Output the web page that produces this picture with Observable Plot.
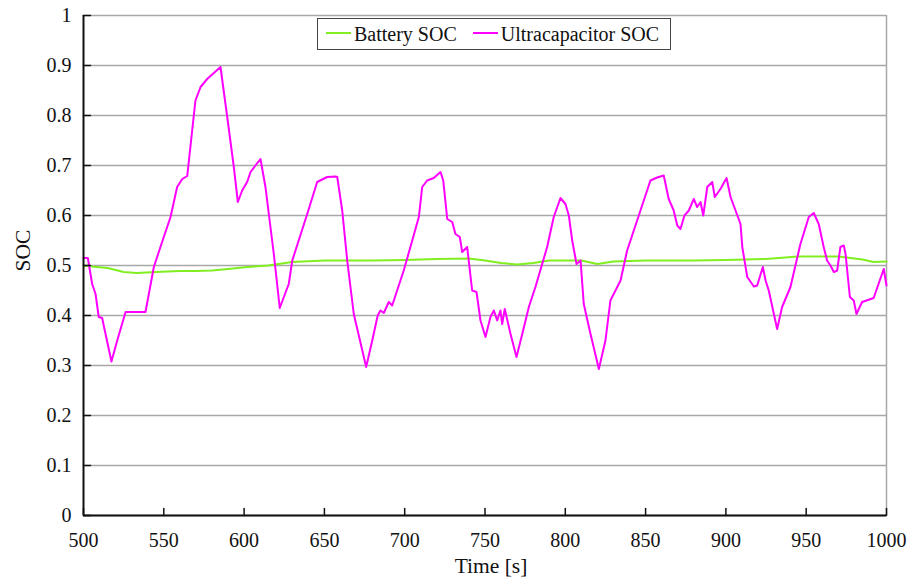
<!DOCTYPE html>
<html>
<head>
<meta charset="utf-8">
<script src="https://cdn.jsdelivr.net/npm/d3@7"></script>
<script src="https://cdn.jsdelivr.net/npm/@observablehq/plot@0.6"></script>
<style>
  html, body { margin: 0; padding: 0; background: #fff; }
  #wrap { position: relative; width: 911px; height: 583px; font-family: "Liberation Serif", "Times New Roman", serif; }
  #legend { position: absolute; left: 317px; top: 18px; width: 352px; height: 30px; border: 1.5px solid #444; background: #fff;
            display: flex; align-items: center; font-size: 20px; color: #111; white-space: nowrap; }
  .sw { display: inline-block; width: 25px; height: 2px; margin: 0 3px 0 8px; position: relative; top: -1px; }
  #chart svg text { font-family: "Liberation Serif", "Times New Roman", serif; }
</style>
</head>
<body>
<div id="wrap">
  <div id="chart"></div>
  <div id="legend"><span class="sw" style="background:#80ee20"></span>Battery SOC<span class="sw" style="background:#ff00ff;margin-left:16px"></span>Ultracapacitor SOC</div>
</div>
<script>
const seriesNames = ["Battery SOC", "Ultracapacitor SOC"];
const xTicks = [500, 550, 600, 650, 700, 750, 800, 850, 900, 950, 1000];
const yTicks = [0, 0.1, 0.2, 0.3, 0.4, 0.5, 0.6, 0.7, 0.8, 0.9, 1];
const yTickLabels = ["0", "0.1", "0.2", "0.3", "0.4", "0.5", "0.6", "0.7", "0.8", "0.9", "1"];

const batteryTime = [500, 505, 515, 525, 533, 545, 560, 570, 580, 590, 602, 615, 630, 650, 680, 700, 720, 740, 750, 760, 770, 780, 790, 810, 820, 830, 850, 880, 900, 925, 945, 970, 985, 992, 1000];
const batterySOC  = [0.5, 0.498, 0.495, 0.487, 0.485, 0.487, 0.489, 0.489, 0.49, 0.493, 0.497, 0.5, 0.507, 0.51, 0.51, 0.511, 0.513, 0.514, 0.51, 0.505, 0.502, 0.505, 0.51, 0.51, 0.503, 0.508, 0.51, 0.51, 0.511, 0.513, 0.518, 0.518, 0.512, 0.507, 0.508];

const ucTime = [500, 502.7, 505.4, 507.5, 509.5, 511.6, 517.4, 521, 526.2, 538.6, 543.8, 547.9, 554.2, 558.3, 561.5, 564.6, 569.7, 572.9, 577, 585.3, 589.5, 593.6, 596.1, 598.8, 601.9, 604, 610.2, 613.3, 618.5, 622.2, 627.8, 630, 639.3, 645.5, 651.7,
  656.9, 658, 661.1, 664.2, 668.3, 676, 679.8, 683.2, 684.9, 687, 690.1, 692.2, 699.4, 704.7, 708.8, 710.9, 714, 718.1, 722.3, 724, 726.5, 729.6, 731.6, 734.3, 735.8, 738.9, 742, 744.7, 747.2, 750.3, 753.4, 755.5, 757.6, 759.6, 760.7, 762.3, 765.9, 769.6, 773.2, 777.3, 781.4, 788.7, 792.8, 797, 800.1,
  802.2, 804.3, 807, 809.5, 811.5, 815.7, 820.9, 825, 828.1, 834.4, 838.5, 846.8, 853, 857.2, 861.3, 864.4, 867.5, 869.7, 871.7, 874.2, 876.9, 880, 882.1, 884.2, 885.9, 888.4, 891.5, 893.1, 896.6, 900.4, 902.9, 906, 909.1, 910.2, 913.3, 917.4, 919.5, 923, 924.7, 926.7, 931.9, 935, 940.2, 946.4, 951.6, 954.7, 957.8, 960.9, 963, 965.1, 967.2, 969.3, 971.3, 973.4, 974.5, 977.2, 979.6, 981.3, 984.8, 992, 998.3, 1000];
const ucSOC = [0.515, 0.515, 0.463, 0.443, 0.397, 0.395, 0.308, 0.35, 0.407, 0.407, 0.497, 0.537, 0.597, 0.657, 0.673, 0.679, 0.83, 0.857, 0.873, 0.897, 0.797, 0.697, 0.627, 0.65, 0.667, 0.687, 0.713, 0.657, 0.523, 0.415, 0.463, 0.51, 0.603, 0.667, 0.677,
  0.678, 0.677, 0.61, 0.51, 0.403, 0.297, 0.35, 0.40, 0.41, 0.405, 0.427, 0.42, 0.49, 0.55, 0.597, 0.657, 0.67, 0.675, 0.687, 0.67, 0.593, 0.587, 0.563, 0.557, 0.527, 0.537, 0.45, 0.447, 0.39, 0.357, 0.397, 0.41, 0.39, 0.41, 0.383, 0.413, 0.363, 0.317, 0.363, 0.417, 0.457, 0.537, 0.597, 0.635, 0.623,
  0.6, 0.55, 0.503, 0.51, 0.423, 0.363, 0.293, 0.35, 0.43, 0.47, 0.53, 0.61, 0.67, 0.676, 0.68, 0.633, 0.61, 0.58, 0.573, 0.6, 0.61, 0.633, 0.617, 0.627, 0.6, 0.657, 0.667, 0.637, 0.653, 0.675, 0.637, 0.61, 0.583, 0.537, 0.477, 0.458, 0.46, 0.497, 0.47, 0.45, 0.373, 0.417, 0.457, 0.543, 0.597, 0.605, 0.583, 0.537, 0.51, 0.5, 0.487, 0.49, 0.537, 0.54, 0.523, 0.437, 0.43, 0.403, 0.427, 0.435, 0.493, 0.46];

const battery = batteryTime.map((t, i) => ({t, v: batterySOC[i]}));
const uc = ucTime.map((t, i) => ({t, v: ucSOC[i]}));

const tickShape = {draw(ctx, l) { ctx.moveTo(0, 0); ctx.lineTo(0, -l); }};
const serif = "'Liberation Serif', 'Times New Roman', serif";

const chart = Plot.plot({
  width: 911,
  height: 583,
  marginLeft: 83,
  marginRight: 25,
  marginTop: 15,
  marginBottom: 68,
  style: {fontFamily: serif, color: "#111", background: "#fff"},
  x: {domain: [500, 1000]},
  y: {domain: [0, 1]},
  marks: [
    Plot.gridY(yTicks, {stroke: "#a8a8a8", strokeOpacity: 1, strokeWidth: 1.5}),
    Plot.ruleX([1000], {stroke: "#a8a8a8", strokeWidth: 1.5}),
    Plot.line(battery, {x: "t", y: "v", stroke: "#80ee20", strokeWidth: 2}),
    Plot.line(uc, {x: "t", y: "v", stroke: "#ff00ff", strokeWidth: 2}),
    Plot.ruleX([500], {stroke: "#111", strokeWidth: 2}),
    Plot.ruleY([0], {stroke: "#111", strokeWidth: 2}),
    Plot.vector(yTicks, {x: 500, y: d => d, length: 7, rotate: 90, anchor: "start", shape: tickShape, stroke: "#111", strokeWidth: 1.5}),
    Plot.vector(xTicks, {x: d => d, y: 0, length: 7, rotate: 0, anchor: "start", shape: tickShape, stroke: "#111", strokeWidth: 1.5}),
    Plot.axisY(yTicks, {tickSize: 0, tickPadding: 12, tickFormat: (d, i) => yTickLabels[i], fontSize: 20, fontFamily: serif, label: null}),
    Plot.axisX(xTicks, {tickSize: 0, tickPadding: 17, fontSize: 20, fontFamily: serif, label: null, tickFormat: d => String(d)}),
    Plot.text(["SOC"], {frameAnchor: "left", dx: -60, dy: 6, rotate: -90, fontSize: 21.5, fontFamily: serif, fill: "#111"}),
    Plot.text(["Time [s]"], {frameAnchor: "bottom", dx: 6, dy: 57, fontSize: 21.5, fontFamily: serif, fill: "#111"})
  ]
});
document.getElementById("chart").appendChild(chart);
</script>
</body>
</html>
